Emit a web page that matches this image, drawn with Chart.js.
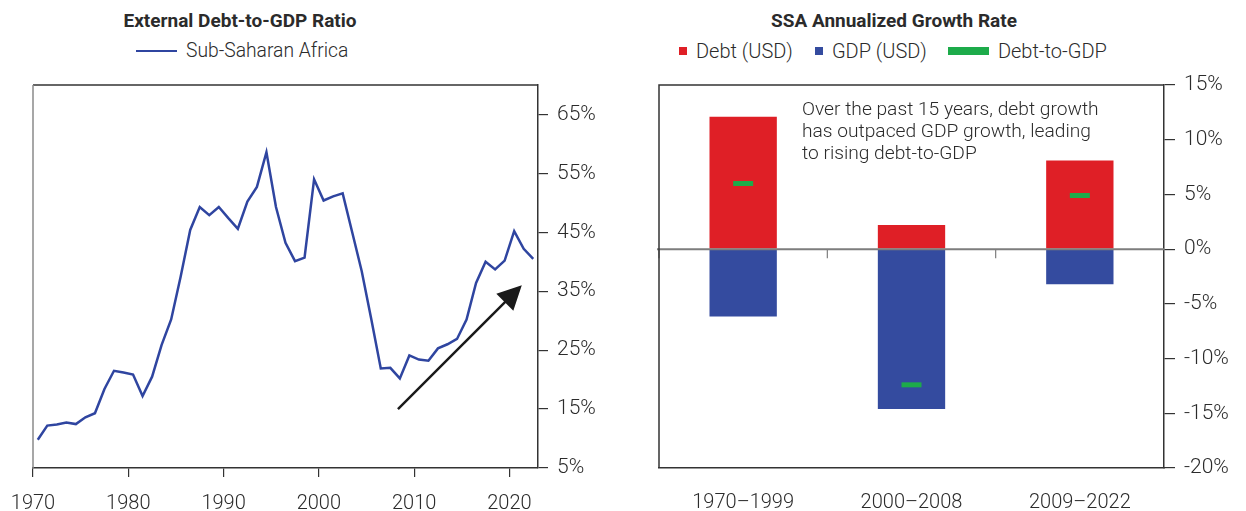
<!DOCTYPE html>
<html><head><meta charset="utf-8">
<script src="https://cdn.jsdelivr.net/npm/chart.js@4.4.1/dist/chart.umd.min.js"></script>
<style>
html,body{margin:0;padding:0;background:#fff;}
body{width:1246px;height:511px;position:relative;overflow:hidden;font-family:Roboto,'Open Sans',sans-serif;color:#2b2b2b;}
.title{position:absolute;top:8px;height:26px;line-height:26px;font-weight:700;font-size:19px;text-align:center;white-space:nowrap;color:#2b2b2b;}
.legend{position:absolute;top:38px;height:26px;line-height:26px;font-size:20px;font-weight:300;white-space:nowrap;display:flex;align-items:center;color:#2b2b2b;}
.sw{display:inline-block;margin-right:9px;}
#c1{position:absolute;left:0;top:0;}
#c2{position:absolute;left:620px;top:0;}
</style></head>
<body>
<div class="title" style="left:40px;width:400px;">External Debt-to-GDP Ratio</div>
<div class="legend" style="left:136px;font-size:19.3px;"><span class="sw" style="width:41px;height:2.5px;background:#2f45a0;"></span>Sub-Saharan Africa</div>
<div class="title" style="left:694px;width:400px;">SSA Annualized Growth Rate</div>
<div class="legend" style="left:679px;">
<span class="sw" style="width:8px;height:8px;background:#df1f26;"></span><span style="margin-right:22px;">Debt (USD)</span>
<span class="sw" style="width:8px;height:8px;background:#344b9f;"></span><span style="margin-right:21px;">GDP (USD)</span>
<span class="sw" style="width:41px;height:8px;background:#1dab4a;"></span><span>Debt-to-GDP</span>
</div>
<canvas id="c1" width="620" height="511"></canvas>
<canvas id="c2" width="626" height="511"></canvas>
<script>
// ---------- Left chart data ----------
const years = [1970,1971,1972,1973,1974,1975,1976,1977,1978,1979,
  1980,1981,1982,1983,1984,1985,1986,1987,1988,1989,
  1990,1991,1992,1993,1994,1995,1996,1997,1998,1999,
  2000,2001,2002,2003,2004,2005,2006,2007,2008,2009,
  2010,2011,2012,2013,2014,2015,2016,2017,2018,2019,
  2020,2021,2022];
const debtToGdp = [9.8,12.2,12.4,12.7,12.45,13.6,14.3,18.4,21.5,21.2,
  20.85,17.2,20.5,25.9,30.2,37.5,45.4,49.3,47.9,49.3,
  47.4,45.6,50.2,52.7,58.6,49.3,43.2,40.1,40.7,54.0,
  50.4,51.1,51.6,45.0,38.4,30.3,21.9,22.0,20.2,24.1,
  23.4,23.2,25.3,26.0,26.9,30.2,36.4,40.0,38.7,40.2,
  45.2,42.2,40.5];
const leftYTicks = [5,15,25,35,45,55,65];
const leftXTicks = [1970,1980,1990,2000,2010,2020];
const arrowStart = [2008.3, 15.0];
const arrowEnd = [2021.3, 36.0];

// ---------- Right chart data ----------
const periods = ['1970\u20131999','2000\u20132008','2009\u20132022'];
const debtGrowth = [12.1, 2.2, 8.1];
const gdpGrowth = [-6.15, -14.6, -3.2];
const ratioGrowth = [6.0, -12.4, 4.9];
const rightYTicks = [-20,-15,-10,-5,0,5,10,15];
const noteLines = ['Over the past 15 years, debt growth','has outpaced GDP growth, leading','to rising debt-to-GDP'];

const FONT = 'Roboto, "Open Sans", sans-serif';
const TXT = '#2b2b2b';
const AX = '#333333';

const leftDecor = {
  id: 'leftDecor',
  afterDraw(chart) {
    const {ctx, chartArea: a, scales: {x, y}} = chart;
    ctx.save();
    ctx.strokeStyle = AX; ctx.lineWidth = 1.5;
    ctx.beginPath(); ctx.moveTo(a.left, a.top); ctx.lineTo(a.right, a.top); ctx.stroke();
    ctx.strokeStyle = '#8a8a8a';
    ctx.beginPath(); ctx.moveTo(a.left, a.top); ctx.lineTo(a.left, a.bottom); ctx.stroke();
    // arrow
    const x0 = x.getPixelForValue(arrowStart[0]), y0 = y.getPixelForValue(arrowStart[1]);
    const x1 = x.getPixelForValue(arrowEnd[0]), y1 = y.getPixelForValue(arrowEnd[1]);
    const ang = Math.atan2(y1 - y0, x1 - x0);
    const L = 24, W = 12;
    const bx = x1 - L * Math.cos(ang), by = y1 - L * Math.sin(ang);
    ctx.strokeStyle = '#1a1a1a'; ctx.fillStyle = '#1a1a1a'; ctx.lineWidth = 2.5;
    ctx.beginPath(); ctx.moveTo(x0, y0); ctx.lineTo(bx + 2*Math.cos(ang), by + 2*Math.sin(ang)); ctx.stroke();
    ctx.beginPath();
    ctx.moveTo(x1, y1);
    ctx.lineTo(bx + W * Math.sin(ang), by - W * Math.cos(ang));
    ctx.lineTo(bx - W * Math.sin(ang), by + W * Math.cos(ang));
    ctx.closePath(); ctx.fill();
    ctx.restore();
  }
};

new Chart(document.getElementById('c1'), {
  type: 'line',
  data: {
    datasets: [{
      label: 'Sub-Saharan Africa',
      data: years.map((yr, i) => ({x: yr + 0.5, y: debtToGdp[i]})),
      borderColor: '#2f45a0', borderWidth: 2.5, pointRadius: 0, tension: 0, fill: false
    }]
  },
  options: {
    responsive: false, animation: false, devicePixelRatio: 1,
    layout: {padding: {left: 33, top: 85, right: 0, bottom: 0}},
    plugins: {legend: {display: false}, tooltip: {enabled: false}, title: {display: false}},
    scales: {
      x: {
        type: 'linear', min: 1970, max: 2023,
        afterBuildTicks: s => { s.ticks = leftXTicks.map(v => ({value: v})); },
        afterFit: s => { s.height = 43; s.paddingLeft = 0; s.paddingRight = 0; },
        grid: {drawOnChartArea: false, drawTicks: true, tickLength: 9, color: AX, lineWidth: 1.2},
        border: {color: AX, width: 1.5},
        ticks: {font: {family: FONT, size: 20, weight: 300}, color: TXT, padding: 15, maxRotation: 0, autoSkip: false, callback: v => String(v)}
      },
      y: {
        position: 'right', min: 5, max: 70,
        afterBuildTicks: s => { s.ticks = leftYTicks.map(v => ({value: v})); },
        afterFit: s => { s.width = 82; },
        grid: {drawOnChartArea: false, drawTicks: true, tickLength: 10, color: AX, lineWidth: 1.2},
        border: {color: AX, width: 1.5},
        ticks: {font: {family: FONT, size: 21, weight: 300}, color: TXT, padding: 9, callback: v => v + '%'}
      }
    }
  },
  plugins: [leftDecor]
});

const rightDecor = {
  id: 'rightDecor',
  afterDatasetsDraw(chart) {
    const {ctx, chartArea: a, scales: {x, y}} = chart;
    ctx.save();
    const y0 = y.getPixelForValue(0);
    ctx.strokeStyle = '#7d7d7d'; ctx.lineWidth = 2;
    ctx.beginPath(); ctx.moveTo(a.left - 2, y0); ctx.lineTo(a.right, y0); ctx.stroke();
    ctx.lineWidth = 1.2;
    for (let i = 0; i < periods.length; i++) {
      const bx = i === 0 ? a.left : (x.getPixelForValue(i - 1) + x.getPixelForValue(i)) / 2;
      ctx.beginPath(); ctx.moveTo(bx, y0); ctx.lineTo(bx, y0 + 9); ctx.stroke();
    }
    ctx.restore();
  },
  afterDraw(chart) {
    const {ctx, chartArea: a} = chart;
    ctx.save();
    ctx.strokeStyle = AX; ctx.lineWidth = 1.5;
    ctx.beginPath(); ctx.moveTo(a.left, a.bottom); ctx.lineTo(a.left, a.top); ctx.lineTo(a.right, a.top); ctx.stroke();
    ctx.fillStyle = TXT; ctx.font = '300 19.2px ' + FONT; ctx.textBaseline = 'alphabetic';
    noteLines.forEach((t, i) => ctx.fillText(t, a.left + 143, a.top + 30 + i * 22));
    ctx.restore();
  }
};

new Chart(document.getElementById('c2'), {
  type: 'bar',
  data: {
    labels: periods,
    datasets: [
      {label: 'Debt (USD)', data: debtGrowth, backgroundColor: '#df1f26', order: 2, categoryPercentage: 1, barPercentage: 0.4},
      {label: 'GDP (USD)', data: gdpGrowth, backgroundColor: '#344b9f', order: 2, categoryPercentage: 1, barPercentage: 0.4},
      {type: 'line', label: 'Debt-to-GDP', data: ratioGrowth, showLine: false, order: 1,
       pointStyle: 'line', pointRadius: 10, pointBorderWidth: 5, borderColor: '#1dab4a', backgroundColor: '#1dab4a', pointHoverRadius: 10}
    ]
  },
  options: {
    responsive: false, animation: false, devicePixelRatio: 1,
    layout: {padding: {left: 39, top: 85, right: 0, bottom: 0}},
    plugins: {legend: {display: false}, tooltip: {enabled: false}, title: {display: false}},
    scales: {
      x: {
        stacked: true,
        afterFit: s => { s.height = 43; s.paddingLeft = 0; s.paddingRight = 0; },
        grid: {display: false},
        border: {color: AX, width: 1.5},
        ticks: {font: {family: FONT, size: 20, weight: 300}, color: TXT, padding: 15, maxRotation: 0}
      },
      y: {
        stacked: false, position: 'right', min: -20, max: 15,
        afterBuildTicks: s => { s.ticks = rightYTicks.map(v => ({value: v})); },
        afterFit: s => { s.width = 82; },
        grid: {drawOnChartArea: false, drawTicks: true, tickLength: 11, color: AX, lineWidth: 1.2},
        border: {color: AX, width: 1.5},
        ticks: {font: {family: FONT, size: 21, weight: 300}, color: TXT, padding: 9, callback: v => v + '%'}
      }
    }
  },
  plugins: [rightDecor]
});
</script>
</body></html>
